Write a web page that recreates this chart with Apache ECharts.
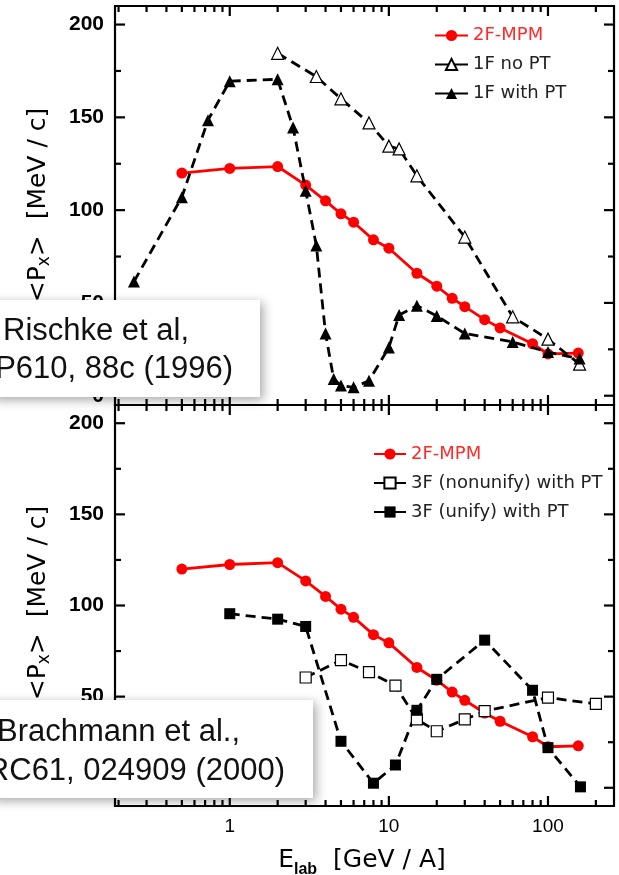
<!DOCTYPE html>
<html>
<head>
<meta charset="utf-8">
<script src="https://cdn.jsdelivr.net/npm/echarts@6/dist/echarts.min.js"></script>
<style>
  html, body { margin: 0; padding: 0; background: #fff; }
  #chart { width: 619px; height: 875px; }
</style>
</head>
<body>
<div id="chart"></div>
<script>
// Beam energy per nucleon E_lab (GeV/A) and mean directed transverse momentum <Px> (MeV/c)
const energyMPM = [0.5, 1, 2, 3, 4, 5, 6, 8, 10, 15, 20, 25, 30, 40, 50, 80, 100, 155];
const pxMPM = [120, 122.5, 123.5, 113.5, 105, 98, 93.5, 84, 79.5, 66, 59, 52.5, 48, 41, 36.5, 28, 22.5, 23];

const energy1FnoPT = [2, 3.5, 5, 7.5, 10, 11.6, 15, 30, 60, 100, 158];
const px1FnoPT = [184.5, 172, 160, 147, 134.5, 133, 118.5, 85.5, 42.5, 30.5, 17];

const energy1FwithPT = [0.25, 0.5, 0.73, 1, 2, 2.5, 3, 3.5, 4, 4.5, 5, 6, 7.5, 10, 11.6, 15, 20, 30, 60, 100, 158];
const px1FwithPT = [61.5, 107, 148.5, 169.5, 170.5, 144.5, 110.5, 81, 33.5, 9, 5.5, 4.5, 8, 26, 43.5, 48.5, 43, 33.5, 29, 23.5, 20];

const energy3Fnonunify = [3, 5, 7.5, 11, 15, 20, 30, 40, 100, 200];
const px3Fnonunify = [60.5, 70, 63.5, 56, 37.5, 31, 37.5, 42, 49.5, 46];

const energy3Funify = [1, 2, 3, 5, 8, 11, 15, 20, 40, 80, 100, 160];
const px3Funify = [95.5, 92.5, 88.5, 25.5, 2.5, 12.5, 42.5, 59.5, 81, 53.5, 22, 0.5];

// Axis ticks and labels
const xMajorTicks = [1, 10, 100];
const xTickLabels = ['1', '10', '100'];
const xMinorTicks = [0.2, 0.3, 0.4, 0.5, 0.6, 0.7, 0.8, 0.9,
                     2, 3, 4, 5, 6, 7, 8, 9,
                     20, 30, 40, 50, 60, 70, 80, 90, 200];
const yMajorTicks = [0, 50, 100, 150, 200];
const yTickLabels = ['0', '50', '100', '150', '200'];
const yMinorTicks = [25, 75, 125, 175];

const xRange = [0.19, 260];
const yRanges = [[-5, 210], [-10, 210]];

const zip = (xs, ys) => xs.map((x, i) => [x, ys[i]]);
const tickStyle = { stroke: '#000', lineWidth: 2.2 };

function xTickSeries(g, withLabels) {
  const [y0, y1] = yRanges[g];
  return {
    type: 'custom', xAxisIndex: g, yAxisIndex: g, silent: true, clip: false, z: 3,
    data: xMajorTicks.concat(xMinorTicks).map(v => [v, y0]),
    renderItem(params, api) {
      const v = api.value(0);
      const mi = xMajorTicks.indexOf(v);
      const len = mi >= 0 ? 10 : 6;
      const b = api.coord([v, y0]);
      const t = api.coord([v, y1]);
      const children = [
        { type: 'line', shape: { x1: b[0], y1: b[1], x2: b[0], y2: b[1] - len }, style: tickStyle },
        { type: 'line', shape: { x1: t[0], y1: t[1], x2: t[0], y2: t[1] + len }, style: tickStyle }
      ];
      if (withLabels && mi >= 0) {
        children.push({
          type: 'text', x: b[0], y: b[1] + 21,
          style: { text: xTickLabels[mi], align: 'center', verticalAlign: 'middle',
                   font: '19px "Liberation Sans"', fill: '#000' }
        });
      }
      return { type: 'group', children };
    }
  };
}

function yTickSeries(g) {
  return {
    type: 'custom', xAxisIndex: g, yAxisIndex: g, silent: true, clip: false, z: 3,
    data: yMajorTicks.concat(yMinorTicks).map(v => [xRange[0], v]),
    renderItem(params, api) {
      const v = api.value(1);
      const mi = yMajorTicks.indexOf(v);
      const len = mi >= 0 ? 10 : 6;
      const l = api.coord([xRange[0], v]);
      const r = api.coord([xRange[1], v]);
      const children = [
        { type: 'line', shape: { x1: l[0], y1: l[1], x2: l[0] + len, y2: l[1] }, style: tickStyle },
        { type: 'line', shape: { x1: r[0], y1: r[1], x2: r[0] - len, y2: r[1] }, style: tickStyle }
      ];
      if (mi >= 0) {
        children.push({
          type: 'text', x: l[0] - 11, y: l[1],
          style: { text: yTickLabels[mi], align: 'right', verticalAlign: 'middle',
                   font: 'bold 21px "Liberation Sans"', fill: '#000' }
        });
      }
      return { type: 'group', children };
    }
  };
}

const redSeries = g => ({
  name: '2F-MPM', type: 'line', xAxisIndex: g, yAxisIndex: g, z: 4,
  data: zip(energyMPM, pxMPM),
  symbol: 'circle', symbolSize: 11,
  lineStyle: { color: '#ff0000', width: 2.8 },
  itemStyle: { color: '#ff0000' }
});

const dashedSeries = (g, name, xs, ys, symbol, size, filled) => ({
  name, type: 'line', xAxisIndex: g, yAxisIndex: g, z: 5,
  data: zip(xs, ys),
  symbol, symbolSize: size,
  lineStyle: { color: '#000', width: 2.8, type: [10, 6] },
  itemStyle: filled ? { color: '#000' } : { color: '#fff', borderColor: '#000', borderWidth: 1.2 }
});

const axisOff = { axisLine: { show: false }, axisTick: { show: false }, axisLabel: { show: false }, splitLine: { show: false } };

const legendBase = {
  orient: 'vertical', itemWidth: 33, itemHeight: 14, itemGap: 11, padding: 0,
  selectedMode: false,
  textStyle: { fontFamily: 'DejaVu Sans', fontSize: 18, color: '#222', lineHeight: 14 }
};

const yTitleRich = {
  a: { fontFamily: 'DejaVu Sans', fontSize: 25, lineHeight: 30, fill: '#000' },
  s: { fontFamily: 'DejaVu Sans', fontSize: 17, lineHeight: 18, verticalAlign: 'bottom', fill: '#000' }
};

const option = {
  animation: false,
  backgroundColor: '#fff',
  grid: [
    { left: 115, top: 6, width: 499, height: 399, show: true, borderColor: '#000', borderWidth: 2.2, backgroundColor: 'transparent' },
    { left: 115, top: 405, width: 499, height: 401, show: true, borderColor: '#000', borderWidth: 2.2, backgroundColor: 'transparent' }
  ],
  xAxis: [0, 1].map(g => Object.assign({ type: 'log', logBase: 10, gridIndex: g, min: xRange[0], max: xRange[1] }, axisOff)),
  yAxis: [0, 1].map(g => Object.assign({ type: 'value', gridIndex: g, min: yRanges[g][0], max: yRanges[g][1] }, axisOff)),
  legend: [
    Object.assign({}, legendBase, {
      left: 434, top: 26.5,
      data: [
        { name: '2F-MPM', textStyle: { color: '#ff2a2a' } },
        { name: '1F no PT', lineStyle: { type: 'solid' } },
        { name: '1F with PT', lineStyle: { type: 'solid' } }
      ]
    }),
    Object.assign({}, legendBase, {
      left: 373, itemWidth: 32, top: 445,
      data: [
        { name: '2F-MPM', textStyle: { color: '#ff2a2a' } },
        { name: '3F (nonunify) with PT', lineStyle: { type: 'solid' } },
        { name: '3F (unify) with PT', lineStyle: { type: 'solid' } }
      ]
    })
  ],
  series: [
    redSeries(0),
    dashedSeries(0, '1F no PT', energy1FnoPT, px1FnoPT, 'triangle', 12, false),
    dashedSeries(0, '1F with PT', energy1FwithPT, px1FwithPT, 'triangle', 12, true),
    redSeries(1),
    dashedSeries(1, '3F (nonunify) with PT', energy3Fnonunify, px3Fnonunify, 'rect', 11, false),
    dashedSeries(1, '3F (unify) with PT', energy3Funify, px3Funify, 'rect', 11, true),
    xTickSeries(0, false), yTickSeries(0),
    xTickSeries(1, true), yTickSeries(1)
  ],
  graphic: [
    // vertical axis titles
    {
      type: 'text', x: 38, y: 205, rotation: Math.PI / 2, z: 50,
      style: { text: '{a|<P}{s|x}{a|>  [MeV / c]}', align: 'center', verticalAlign: 'middle', fill: '#000', rich: yTitleRich }
    },
    {
      type: 'text', x: 38, y: 603, rotation: Math.PI / 2, z: 50,
      style: { text: '{a|<P}{s|x}{a|>  [MeV / c]}', align: 'center', verticalAlign: 'middle', fill: '#000', rich: yTitleRich }
    },
    // horizontal axis title
    {
      type: 'text', x: 362, y: 860, z: 50,
      style: {
        text: '{a|E}{s|lab}{a|  [GeV / A]}', align: 'center', verticalAlign: 'middle', fill: '#000',
        rich: {
          a: { fontFamily: 'DejaVu Sans', fontSize: 25, lineHeight: 36, fill: '#000' },
          s: { fontFamily: 'Liberation Sans', fontWeight: 'bold', fontSize: 16, lineHeight: 12, verticalAlign: 'bottom', fill: '#000' }
        }
      }
    },
    // reference boxes
    {
      type: 'rect', z: 100,
      shape: { x: -10, y: 300, width: 270, height: 97 },
      style: { fill: '#fff', shadowBlur: 10, shadowColor: 'rgba(0,0,0,0.35)', shadowOffsetX: 3, shadowOffsetY: 3 }
    },
    {
      type: 'text', x: 3, y: 331, z: 101,
      style: { text: 'Rischke et al,', font: '31px "Liberation Sans"', fill: '#111', align: 'left', verticalAlign: 'middle' }
    },
    {
      type: 'text', x: 233, y: 369, z: 101,
      style: { text: 'NP610, 88c (1996)', font: '31px "Liberation Sans"', fill: '#111', align: 'right', verticalAlign: 'middle' }
    },
    {
      type: 'rect', z: 100,
      shape: { x: -10, y: 700, width: 323, height: 98 },
      style: { fill: '#fff', shadowBlur: 10, shadowColor: 'rgba(0,0,0,0.35)', shadowOffsetX: 3, shadowOffsetY: 3 }
    },
    {
      type: 'text', x: 240, y: 732, z: 101,
      style: { text: 'Brachmann et al.,', font: '31px "Liberation Sans"', fill: '#111', align: 'right', verticalAlign: 'middle' }
    },
    {
      type: 'text', x: 285, y: 771, z: 101,
      style: { text: 'PRC61, 024909 (2000)', font: '31px "Liberation Sans"', fill: '#111', align: 'right', verticalAlign: 'middle' }
    }
  ]
};

const chart = echarts.init(document.getElementById('chart'));
chart.setOption(option);
</script>
</body>
</html>
